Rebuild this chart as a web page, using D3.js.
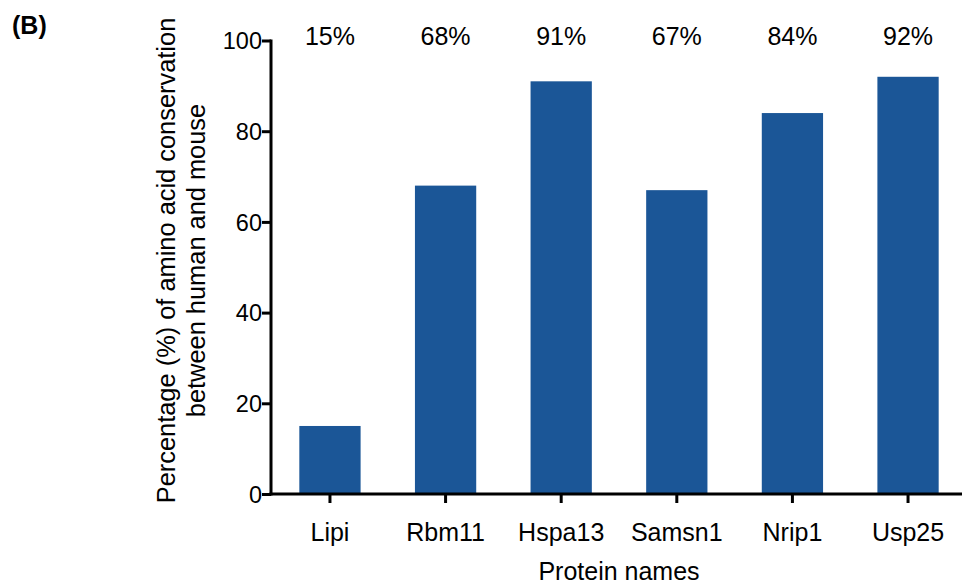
<!DOCTYPE html>
<html>
<head>
<meta charset="utf-8">
<script src="https://cdn.jsdelivr.net/npm/d3@7/dist/d3.min.js"></script>
<style>
  html, body { margin: 0; padding: 0; background: #fff; }
  svg { display: block; font-family: "Liberation Sans", Arial, Helvetica, sans-serif; }
</style>
</head>
<body>
<svg id="chart" width="962" height="586"></svg>
<script>
// Protein names and their human–mouse amino acid conservation (%)
const proteins = ["Lipi", "Rbm11", "Hspa13", "Samsn1", "Nrip1", "Usp25"];
const conservation = [15, 68, 91, 67, 84, 92];
const yTicks = [0, 20, 40, 60, 80, 100];
const panelLabel = "(B)";
const xTitle = "Protein names";
const yTitleLines = ["Percentage (%) of amino acid conservation", "between human and mouse"];

const svg = d3.select("#chart");
const barColor = "#1b5697";
const ink = "#000";

const x = d3.scaleBand()
  .domain(proteins)
  .range([271, 967])
  .paddingInner(0.47)
  .paddingOuter(0.245);

const y = d3.scaleLinear()
  .domain([0, 100])
  .range([494, 40.5]);

const rows = proteins.map((p, i) => ({ p, v: conservation[i] }));

// bars
svg.append("g")
  .selectAll("rect")
  .data(rows)
  .join("rect")
  .attr("x", d => x(d.p))
  .attr("y", d => y(d.v))
  .attr("width", x.bandwidth())
  .attr("height", d => y(0) - y(d.v))
  .attr("fill", barColor);

// value labels along the top
svg.append("g")
  .selectAll("text")
  .data(rows)
  .join("text")
  .attr("x", d => x(d.p) + x.bandwidth() / 2)
  .attr("y", 45)
  .attr("text-anchor", "middle")
  .attr("font-size", 25)
  .attr("fill", ink)
  .text(d => d.v + "%");

// y axis
const yAxis = svg.append("g")
  .attr("transform", "translate(271,0)")
  .call(d3.axisLeft(y).tickValues(yTicks).tickSize(9).tickSizeOuter(0).tickPadding(0));
yAxis.select(".domain").attr("stroke", ink).attr("stroke-width", 3)
  .attr("d", `M0,${y(0) + 1.5}V${y(100) - 1}`);
yAxis.selectAll(".tick line").attr("stroke", ink).attr("stroke-width", 3);
yAxis.selectAll(".tick text")
  .attr("font-size", 23.5)
  .attr("font-family", "Liberation Sans, Arial, sans-serif")
  .attr("fill", ink)
  .attr("dy", "0.35em");

// x axis
const xAxis = svg.append("g")
  .attr("transform", "translate(0,494)")
  .call(d3.axisBottom(x).tickSize(9).tickSizeOuter(0));
xAxis.select(".domain").attr("stroke", ink).attr("stroke-width", 3)
  .attr("d", `M${271 - 1.5},0H967`);
xAxis.selectAll(".tick line").attr("stroke", ink).attr("stroke-width", 3);
xAxis.selectAll(".tick text")
  .attr("font-size", 25)
  .attr("font-family", "Liberation Sans, Arial, sans-serif")
  .attr("fill", ink)
  .attr("y", 47)
  .attr("dy", 0);

// axis titles
svg.append("text")
  .attr("x", 619)
  .attr("y", 580)
  .attr("text-anchor", "middle")
  .attr("font-size", 25)
  .attr("fill", ink)
  .text(xTitle);

const yTitle = svg.append("text")
  .attr("transform", "translate(0,260.5) rotate(-90)")
  .attr("text-anchor", "middle")
  .attr("font-size", 25.4)
  .attr("fill", ink);
yTitleLines.forEach((line, i) => {
  yTitle.append("tspan")
    .attr("x", 0)
    .attr("y", 175 + i * 30)
    .text(line);
});

// panel label
svg.append("text")
  .attr("x", 12)
  .attr("y", 34)
  .attr("font-size", 25)
  .attr("font-weight", "bold")
  .attr("fill", ink)
  .text(panelLabel);
</script>
</body>
</html>
